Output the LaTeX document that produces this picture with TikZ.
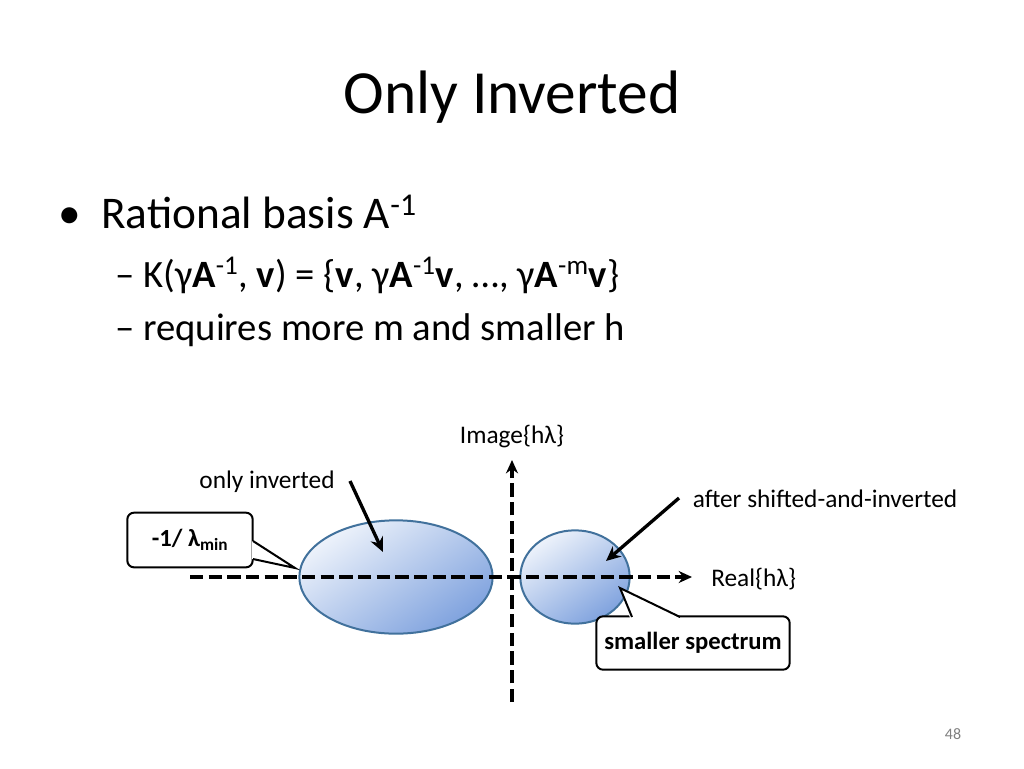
\documentclass[tikz,border=0pt]{standalone}
\usepackage{fontspec}
\setmainfont{Carlito}
\usetikzlibrary{arrows.meta,positioning}
\definecolor{ringblue}{HTML}{41719C}
\definecolor{lightfill}{HTML}{EEF3FB}
\definecolor{deepfill}{HTML}{7FA2DE}
\tikzstyle{arrow} = [line width=2.5pt,-{Stealth[length=11pt,width=10pt]}]
\tikzstyle{axis} = [line width=2.5pt,dash pattern=on 10pt off 4pt,-{Stealth[length=10pt,width=9pt]}]
\tikzstyle{blob} = [
        ellipse,
        draw=ringblue,
        line width=1.5pt,
        top color=lightfill,
        bottom color=deepfill,
        shading angle=35,
    ]
\tikzstyle{callout} = [
        rectangle,
        rounded corners=5pt,
        draw=black,
        line width=1.5pt,
        fill=white,
        font=\fontsize{18.5}{21}\selectfont\bfseries,
    ]
\tikzstyle{plain} = [font=\fontsize{19}{22}\selectfont, inner sep=0pt]
\usetikzlibrary{shapes.geometric}
\begin{document}
\begin{tikzpicture}[x=0.75pt,y=-0.75pt]
            \useasboundingbox (0,0) rectangle (1024,768);
            \node [font=\fontsize{46}{50}\selectfont] (title) at (512,97) {Only Inverted};
            \node [anchor=base west, font=\fontsize{34}{38}\selectfont, inner sep=0pt] (bullet) at (58,228) {\textbullet\hspace{0.45em}Rational basis A\textsuperscript{-1}};
            \node [anchor=base west, font=\fontsize{29}{32}\selectfont, inner sep=0pt] (krylov) at (115,287) {– K(γ\textbf{A}\textsuperscript{-1}, \textbf{v}) = \{\textbf{v}, γ\textbf{A}\textsuperscript{-1}\textbf{v}, …, γ\textbf{A}\textsuperscript{-m}\textbf{v}\}};
            \node [anchor=base west, font=\fontsize{29}{32}\selectfont, inner sep=0pt] (needs) at (115,340) {– requires more m and smaller h};
            % blobs
            \node [blob, minimum width=145pt, minimum height=85pt] (big) at (396,577) {};
            \node [blob, minimum width=82pt, minimum height=70pt] (small) at (575,577) {};
            % axes
            \coordinate (xl) at (190,577);
            \coordinate (xr) at (692,577);
            \coordinate (yb) at (512,702);
            \coordinate (yt) at (512,460);
            \draw [axis] (xl) -- (xr);
            \draw [axis] (yb) -- (yt);
            \node [plain] (imlabel) at (512,437) {Image\{hλ\}};
            \node [plain, anchor=west] (relabel) at (711,579) {Real\{hλ\}};
            % pointers
            \node [plain] (onlyinv) at (267,482) {only inverted};
            \node [plain] (aftersi) at (825,499) {after shifted-and-inverted};
            \coordinate (bigtip) at (383,552);
            \coordinate (smalltip) at (606,561);
            \draw [arrow] (350,481) -- (bigtip);
            \draw [arrow] (679,498) -- (smalltip);
            % callouts
            \node [callout, minimum width=94pt, minimum height=41pt] (lamnode) at (190,540) {-1/ λ\textsubscript{min}};
            \coordinate (lamtip) at (295,568);
            \fill [white] (252,541) -- (lamtip) -- (252,559) -- cycle;
            \draw [line width=1.5pt] (253,541) -- (lamtip) -- (253,559);
            \node [callout, minimum width=145pt, minimum height=40pt] (specnode) at (693,643) {smaller spectrum};
            \coordinate (spectip) at (620,588);
            \fill [white] (630,618) -- (spectip) -- (680,618) -- cycle;
            \draw [line width=1.5pt] (632,617) -- (spectip) -- (680,617);
            \node [font=\fontsize{12}{14}\selectfont, text=gray] (pagenum) at (953,734) {48};
        \end{tikzpicture}
\end{document}
